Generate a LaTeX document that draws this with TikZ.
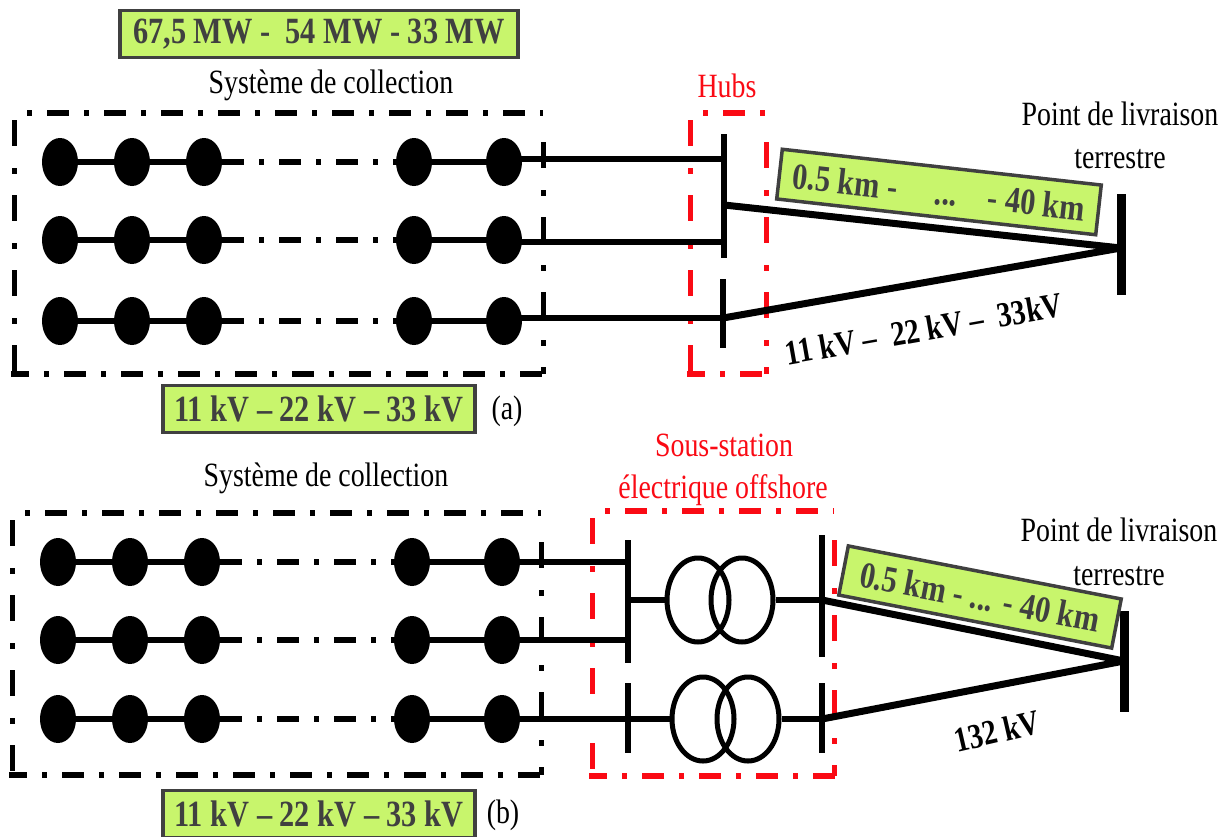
\documentclass[tikz,border=0pt]{standalone}
\usepackage{fontspec}
\setmainfont[FakeStretch=0.82]{Liberation Serif}
\usepackage{xcolor}
\usepackage{tikz}
\usetikzlibrary{
  positioning,
  shapes.geometric,
  calc
}
\definecolor{TagGreen}{RGB}{200,245,108}
\definecolor{TagEdge}{RGB}{64,64,64}
\definecolor{HubRed}{RGB}{250,10,20}

\tikzset{
  wtnode/.style={ellipse,fill=black,inner sep=0pt,minimum width=36pt,minimum height=48pt},
  feeder/.style={line width=6.5pt},
  gapline/.style={line width=6.5pt,dash pattern=on 22pt off 15pt on 5pt off 15pt},
  cable/.style={line width=7pt},
  busbar/.style={fill=black,inner sep=0pt,minimum width=6.5pt},
  landbar/.style={fill=black,inner sep=0pt,minimum width=9pt,minimum height=101pt},
  coil/.style={ellipse,draw=black,line width=5pt,inner sep=0pt,minimum width=62pt,minimum height=84pt},
  tag/.style={fill=TagGreen,draw=TagEdge,line width=3.5pt,text=TagEdge,inner sep=0pt,font=\fontsize{37}{40}\selectfont\bfseries},
  plain/.style={font=\fontsize{34}{38}\selectfont,inner sep=0pt},
  slanted/.style={font=\fontsize{35}{38}\selectfont\bfseries,inner sep=0pt},
  boxh/.style={line width=6.5pt,dash pattern=on 22pt off 15pt on 5pt off 15pt},
  boxv/.style={line width=5pt,dash pattern=on 26pt off 22pt on 6pt off 21pt}
}

\begin{document}
\begin{tikzpicture}[x=1pt,y=-1pt]
  \useasboundingbox (0,0) rectangle (1229,836);

  % ---------- cadres ----------
  \foreach \xa/\ya/\xb/\yb/\col in {14/113/543/374/black,12/513/541/775/black,
      690/113/766/374/HubRed,592/511/834/776/HubRed} {
    \draw[boxh,\col,dash phase=37pt] (\xa+13,\ya) -- (\xb,\ya);
    \draw[boxh,\col,dash phase=4pt] (\xa-3,\yb) -- (\xb+3,\yb);
    \draw[boxv,\col] (\xa,\ya+7) -- (\xa,\yb);
    \draw[boxv,\col] (\xb,\ya+29) -- (\xb,\yb);
  }

  % ---------- eoliennes ----------
  \foreach \r/\y in {1/162,2/240,3/321} {
    \foreach \k/\x in {1/60,2/132,3/204,4/414,5/504}
      \node[wtnode] (a\r\k) at (\x,\y) {};
  }
  \foreach \r/\y in {1/562,2/640,3/719} {
    \foreach \k/\x in {1/58,2/130,3/202,4/412,5/502}
      \node[wtnode] (b\r\k) at (\x,\y) {};
  }
  \foreach \p in {a,b} {
    \foreach \r in {1,2,3} {
      \draw[feeder] (\p\r1) -- (\p\r2);
      \draw[feeder] (\p\r2) -- (\p\r3);
      \draw[gapline] (\p\r3.east) -- (\p\r4.west);
      \draw[feeder] (\p\r4) -- (\p\r5);
    }
  }

  % ---------- barres (a) ----------
  \node[busbar,minimum height=124pt] (hubtop) at (724,196) {};
  \node[busbar,minimum height=69pt] (hubbot) at (723,313) {};
  \node[landbar] (landa) at (1121,244) {};
  \coordinate (ja1) at (724,159);
  \coordinate (ja2) at (724,242);
  \coordinate (ja3) at (723,318);
  \coordinate (ja4) at (724,205);
  \coordinate (ta) at (1121,248);
  \draw[feeder] (a15 |- ja1) -- (ja1);
  \draw[feeder] (a25 |- ja2) -- (ja2);
  \draw[feeder] (a35 |- ja3) -- (ja3);
  \draw[cable] (ja4) -- (ta);
  \draw[cable] (ja3) -- (ta);

  % ---------- barres et transformateurs (b) ----------
  \node[busbar,minimum height=123pt] (mvtop) at (628,601) {};
  \node[busbar,minimum height=122pt] (hvtop) at (822,596) {};
  \node[busbar,minimum height=70pt] (mvbot) at (628,718) {};
  \node[busbar,minimum height=70pt] (hvbot) at (822,718) {};
  \node[landbar] (landb) at (1124,661) {};
  \coordinate (tb) at (1124,661);
  \coordinate (jb1) at (628,562);
  \coordinate (jb2) at (628,640);
  \coordinate (jb3) at (628,719);
  \coordinate (jb4) at (628,600);
  \coordinate (jb5) at (822,600);
  \coordinate (jb6) at (628,719);
  \coordinate (jb7) at (822,719);
  \node[coil] (tra1) at (698,600) {};
  \node[coil] (tra2) at (742,600) {};
  \node[coil] (trb1) at (703,719) {};
  \node[coil] (trb2) at (748,719) {};
  \draw[feeder] (b15 |- jb1) -- (jb1);
  \draw[feeder] (b25 |- jb2) -- (jb2);
  \draw[feeder] (b35 |- jb3) -- (jb3);
  \draw[feeder] (jb4) -- (tra1);
  \draw[feeder] (tra2) -- (jb5);
  \draw[feeder] (jb6) -- (trb1);
  \draw[feeder] (trb2) -- (jb7);
  \draw[cable] (jb5) -- (tb);
  \draw[cable] (jb7) -- (tb);

  % ---------- etiquettes vertes ----------
  \node[tag,minimum width=398pt,minimum height=47pt] (power) at (319,34) {67,5 MW -\ \ 54 MW - 33 MW};
  \node[tag,minimum width=312pt,minimum height=47pt] (volta) at (319,409) {11 kV -- 22 kV -- 33 kV};
  \node[tag,minimum width=312pt,minimum height=47pt] (voltb) at (319,814) {11 kV -- 22 kV -- 33 kV};
  \node[tag,rotate=-6.4,minimum width=321pt,minimum height=50pt] (lena) at (939,192)
    {0.5 km -\ \ \ \ \ ...\ \ \ \ - 40 km};
  \node[tag,rotate=-11,minimum width=278pt,minimum height=50pt] (lenb) at (980,597)
    {0.5 km - ... - 40 km};

  % ---------- textes ----------
  \node[plain] (sysa) at (331,85) {Système de collection};
  \node[plain] (sysb) at (326,478) {Système de collection};
  \node[plain,HubRed] (hubs) at (727,86) {Hubs};
  \node[plain,HubRed] (subs1) at (724,445) {Sous-station};
  \node[plain,HubRed] (subs2) at (723,490) {électrique offshore};
  \node[plain] (pla1) at (1120,114) {Point de livraison};
  \node[plain] (pla2) at (1120,159) {terrestre};
  \node[plain] (plb1) at (1119,530) {Point de livraison};
  \node[plain] (plb2) at (1119,576) {terrestre};
  \node[plain] (capa) at (507,411) {(a)};
  \node[plain] (capb) at (503,815) {(b)};
  \node[slanted,rotate=10] (kva) at (924,329)
    {11 kV --\ \ 22 kV --\ \ 33kV};
  \node[slanted,rotate=13] (kvb) at (997,731) {132 kV};
\end{tikzpicture}
\end{document}
